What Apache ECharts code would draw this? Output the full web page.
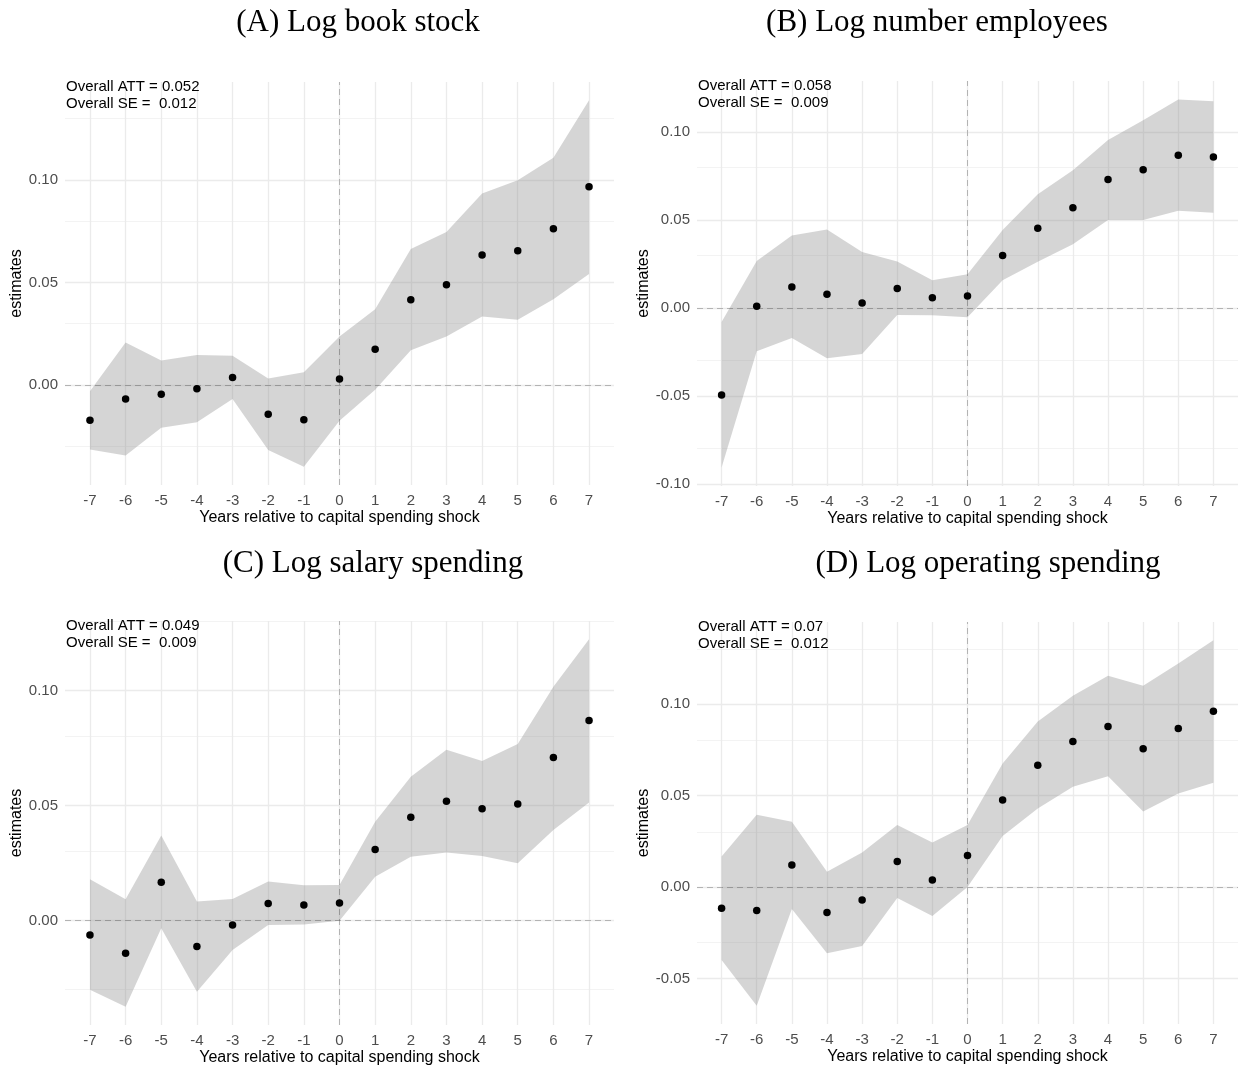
<!DOCTYPE html>
<html>
<head>
<meta charset="utf-8">
<script src="https://cdn.jsdelivr.net/npm/echarts@6/dist/echarts.min.js"></script>
<style>
  html, body { margin: 0; padding: 0; background: #fff; }
  #chart { width: 1238px; height: 1068px; }
</style>
</head>
<body>
<div id="chart"></div>
<script>
const years = [-7, -6, -5, -4, -3, -2, -1, 0, 1, 2, 3, 4, 5, 6, 7];

// (A) book stock
const bookEst = [-0.0172, -0.0068, -0.0045, -0.0019, 0.0036, -0.0143, -0.0170, 0.0029, 0.0175, 0.0416, 0.0490, 0.0635, 0.0656, 0.0763, 0.0968];
const bookLo = [-0.0315, -0.0344, -0.0209, -0.0182, -0.0068, -0.0318, -0.0399, -0.0175, -0.0023, 0.0169, 0.0237, 0.0334, 0.0318, 0.0419, 0.0542];
const bookHi = [-0.0031, 0.0208, 0.0120, 0.0146, 0.0143, 0.0032, 0.0062, 0.0237, 0.0370, 0.0664, 0.0747, 0.0935, 0.1000, 0.1110, 0.1390];

// (B) employees
const empEst = [-0.0495, 0.0009, 0.0118, 0.0078, 0.0028, 0.0110, 0.0057, 0.0068, 0.0298, 0.0453, 0.0569, 0.0730, 0.0785, 0.0868, 0.0857];
const empLo = [-0.0908, -0.0246, -0.0171, -0.0286, -0.0262, -0.0040, -0.0042, -0.0053, 0.0157, 0.0262, 0.0362, 0.0499, 0.0499, 0.0552, 0.0540];
const empHi = [-0.0080, 0.0267, 0.0411, 0.0445, 0.0318, 0.0264, 0.0157, 0.0191, 0.0442, 0.0646, 0.0783, 0.0954, 0.1067, 0.1185, 0.1175];

// (C) salary spending
const salEst = [-0.0062, -0.0142, 0.0167, -0.0113, -0.0019, 0.0075, 0.0068, 0.0077, 0.0309, 0.0449, 0.0519, 0.0487, 0.0507, 0.0709, 0.0870];
const salLo = [-0.0301, -0.0374, -0.0033, -0.0309, -0.0128, -0.0019, -0.0017, 0.0000, 0.0191, 0.0278, 0.0296, 0.0281, 0.0249, 0.0394, 0.0514];
const salHi = [0.0180, 0.0093, 0.0370, 0.0083, 0.0094, 0.0170, 0.0154, 0.0155, 0.0430, 0.0626, 0.0743, 0.0694, 0.0768, 0.1017, 0.1223];

// (D) operating spending
const opEst = [-0.0116, -0.0129, 0.0120, -0.0139, -0.0071, 0.0139, 0.0038, 0.0172, 0.0475, 0.0665, 0.0795, 0.0877, 0.0755, 0.0866, 0.0960];
const opLo = [-0.0399, -0.0649, -0.0120, -0.0362, -0.0322, -0.0060, -0.0159, 0.0000, 0.0279, 0.0429, 0.0547, 0.0605, 0.0413, 0.0511, 0.0569];
const opHi = [0.0167, 0.0395, 0.0357, 0.0083, 0.0188, 0.0339, 0.0243, 0.0339, 0.0674, 0.0904, 0.1045, 0.1154, 0.1100, 0.1221, 0.1348];

const titles = ['(A) Log book stock', '(B) Log number employees', '(C) Log salary spending', '(D) Log operating spending'];
const attText = ['0.052', '0.058', '0.049', '0.07'];
const seText = ['0.012', '0.009', '0.009', '0.012'];
const yTicksA = [0, 0.05, 0.10];
const yTicksB = [-0.10, -0.05, 0, 0.05, 0.10];
const yTicksC = [0, 0.05, 0.10];
const yTicksD = [-0.05, 0, 0.05, 0.10];

const panels = [
  { est: bookEst, lo: bookLo, hi: bookHi, ticks: yTicksA },
  { est: empEst, lo: empLo, hi: empHi, ticks: yTicksB },
  { est: salEst, lo: salLo, hi: salHi, ticks: yTicksC },
  { est: opEst, lo: opLo, hi: opHi, ticks: yTicksD }
];

// layout of each facet
const boxes = [
  { left: 65, top: 82, width: 549, height: 403, tx: 358, ty: 23 },
  { left: 697, top: 81, width: 545, height: 405, tx: 937, ty: 23 },
  { left: 65, top: 621, width: 549, height: 404, tx: 373, ty: 564 },
  { left: 697, top: 622, width: 545, height: 402, tx: 988, ty: 564 }
];

const sans = '"Liberation Sans", Arial, sans-serif';
const gridMajor = { color: '#ebebeb', width: 1.3, type: 'solid' };
const gridMinor = { color: '#f2f2f2', width: 0.9, type: 'solid' };
const refLine = { color: 'rgba(0,0,0,0.24)', width: 1, type: [6, 4] };

const option = {
  animation: false,
  backgroundColor: '#fff',
  grid: [], xAxis: [], yAxis: [], series: [], graphic: []
};

panels.forEach((p, k) => {
  const b = boxes[k];
  const lowest = Math.min(...p.lo), highest = Math.max(...p.hi);
  const pad = (highest - lowest) * 0.05;
  const yMin = lowest - pad, yMax = highest + pad;

  const minors = [];
  p.ticks.forEach(t => {
    [t - 0.025, t + 0.025].forEach(m => {
      if (m > yMin && m < yMax && !minors.some(v => Math.abs(v - m) < 1e-9)) minors.push(m);
    });
  });

  option.grid.push({ left: b.left, top: b.top, width: b.width, height: b.height });
  option.xAxis.push({
    type: 'value', gridIndex: k, min: -7.7, max: 7.7,
    name: 'Years relative to capital spending shock', nameLocation: 'middle', nameGap: 25,
    nameTextStyle: { color: '#000', fontSize: 16, fontFamily: sans },
    axisLine: { show: false }, axisTick: { show: false }, splitLine: { show: false },
    axisLabel: { customValues: years, color: '#4d4d4d', fontSize: 15, fontFamily: sans, margin: 8 }
  });
  option.yAxis.push({
    type: 'value', gridIndex: k, min: yMin, max: yMax,
    name: 'estimates', nameLocation: 'middle', nameGap: 39,
    nameTextStyle: { color: '#000', fontSize: 16, fontFamily: sans },
    axisLine: { show: false }, axisTick: { show: false }, splitLine: { show: false },
    axisLabel: { customValues: p.ticks, formatter: v => v.toFixed(2), color: '#4d4d4d', fontSize: 15, fontFamily: sans, margin: 7 }
  });

  const gridLines = []
    .concat(minors.map(v => ({ yAxis: v, lineStyle: gridMinor })))
    .concat(p.ticks.map(v => ({ yAxis: v, lineStyle: gridMajor })))
    .concat(years.map(v => ({ xAxis: v, lineStyle: gridMajor })));

  // confidence ribbon: one polygon through the upper bounds and back along the lower ones
  option.series.push({
    type: 'custom', xAxisIndex: k, yAxisIndex: k, z: 2, silent: true,
    data: years.map((x, i) => [x, p.lo[i], p.hi[i]]),
    renderItem: (params, api) => {
      if (params.dataIndex !== 0) return null;
      const upper = years.map((x, i) => api.coord([x, p.hi[i]]));
      const lower = years.map((x, i) => api.coord([x, p.lo[i]])).reverse();
      return {
        type: 'polygon',
        shape: { points: upper.concat(lower) },
        style: { fill: 'rgba(140,140,140,0.37)' }
      };
    },
    markLine: { silent: true, z: 1, symbol: ['none', 'none'], label: { show: false }, data: gridLines }
  });
  option.series.push({
    type: 'scatter', xAxisIndex: k, yAxisIndex: k, z: 4,
    data: years.map((x, i) => [x, p.est[i]]),
    symbolSize: 7.5, itemStyle: { color: '#000', opacity: 1 },
    markLine: {
      silent: true, z: 3, symbol: ['none', 'none'], label: { show: false },
      data: [{ yAxis: 0, lineStyle: refLine }, { xAxis: 0, lineStyle: refLine }]
    }
  });

  option.graphic.push({
    type: 'text', x: b.tx, y: b.ty, silent: true, z: 100,
    style: { text: titles[k], x: 0, y: 0, align: 'center', verticalAlign: 'middle',
      font: '31px "Liberation Serif", "DejaVu Serif", serif', fill: '#000' }
  });
  option.graphic.push({
    type: 'text', x: b.left + 1, y: b.top - 4, silent: true, z: 100,
    style: { text: 'Overall ATT = ' + attText[k] + '\nOverall SE =  ' + seText[k],
      font: '15px ' + sans, lineHeight: 17, fill: '#000' }
  });
});

const chart = echarts.init(document.getElementById('chart'));
chart.setOption(option);
</script>
</body>
</html>
